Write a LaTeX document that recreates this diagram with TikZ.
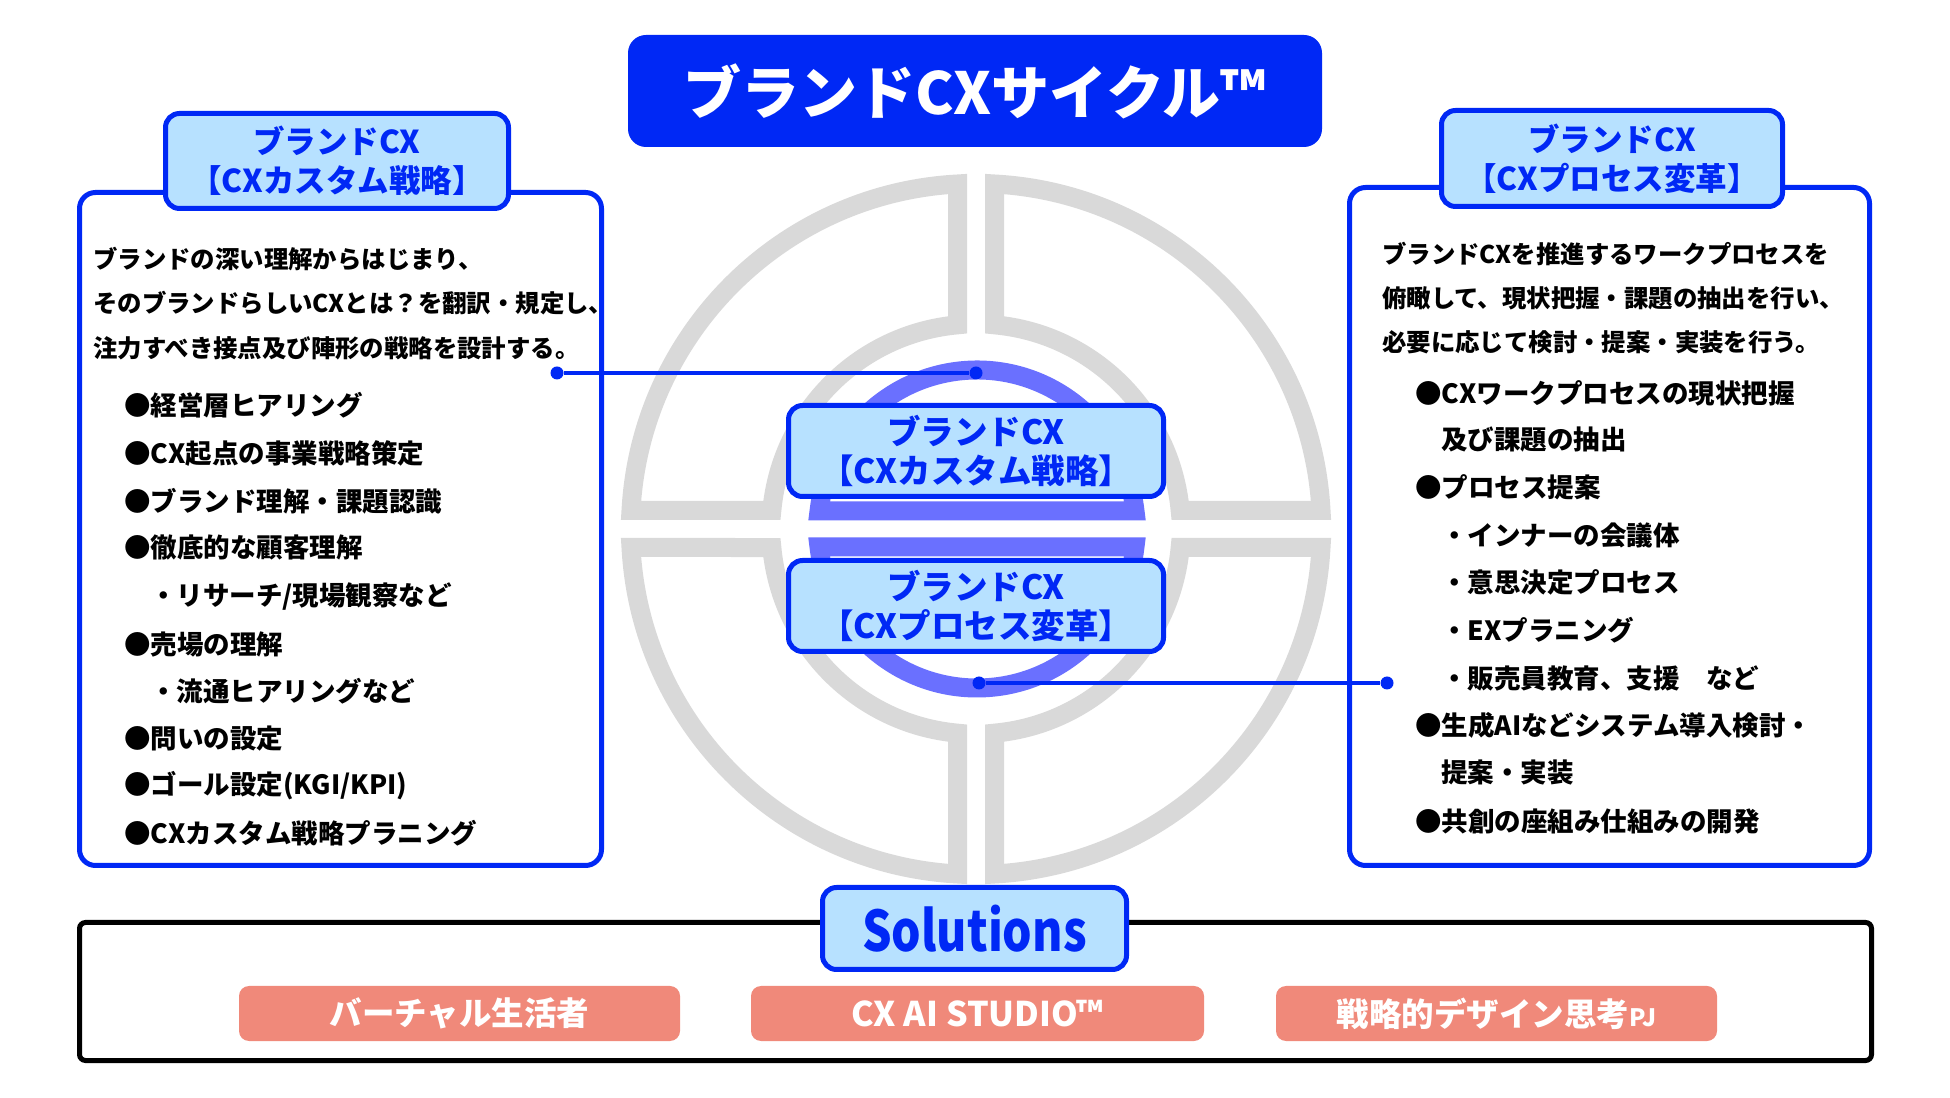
\documentclass[tikz,border=0pt]{standalone}
\usepackage{fontspec}
\setmainfont{Noto Sans CJK JP}
\newfontfamily\condfont{Noto Sans CJK JP}[FakeStretch=0.83]
\newcommand\fsz[2]{\fontsize{#1}{#2}\selectfont}
\definecolor{mblue}{RGB}{0,40,245}
\definecolor{lblue}{RGB}{183,225,255}
\definecolor{rblue}{RGB}{106,112,255}
\definecolor{rgray}{RGB}{217,217,217}
\definecolor{salmon}{RGB}{240,137,122}
\begin{document}
\begin{tikzpicture}[x=1pt,y=1pt,
  hdr/.style={draw=mblue, line width=5pt, fill=lblue, rounded corners=14pt, text=mblue,
    font=\fsz{31.5}{39}\bfseries, align=center, inner sep=0pt},
  panel/.style={draw=mblue, line width=5pt, fill=white, rounded corners=16pt, inner sep=0pt},
  desc/.style={anchor=west, font=\fsz{24.4}{28}\bfseries, inner sep=0pt},
  item/.style={anchor=west, font=\fsz{26.5}{30}\bfseries, inner sep=0pt},
  sol/.style={fill=salmon, rounded corners=10pt, text=white, font=\fsz{32.5}{36}\bfseries,
    minimum width=441pt, minimum height=55pt, inner sep=0pt},
  dot/.style={circle, fill=mblue, inner sep=0pt, minimum size=13pt},
  conn/.style={draw=mblue, line width=3.5pt}
]
\useasboundingbox (0,0) rectangle (1950,1097);
\fill[white] (0,0) rectangle (1950,1097);

% gray quadrants
\begin{scope}[shift={(976,568)}]
\foreach \r in {0,90,180,270}{
  \draw[rgray, line width=19pt, rotate=\r]
    (-18.5,345.0) arc[start angle=93.07, end angle=176.93, radius=345.5]
    -- (-204.16,18.5) arc[start angle=174.82, end angle=95.18, radius=205] -- cycle;
}
\end{scope}
% blue halves
\begin{scope}[shift={(977,568)}]
\foreach \r in {0,180}{
  \draw[rblue, line width=19pt, rotate=\r]
    (157.98,18) arc[start angle=6.50, end angle=173.50, radius=159] -- cycle;
}
\end{scope}

% title
\node[fill=mblue, rounded corners=18pt, minimum width=694pt, minimum height=112pt, inner sep=0pt,
  text=white, font=\fsz{58}{60}\bfseries] (title) at (975,1006) {ブランドCXサイクル™};

% left panel
\node[panel, minimum width=522pt, minimum height=673pt] (lbox) at (340.5,568) {};
\node[hdr, minimum width=343pt, minimum height=95pt] (lhdr) at (337,936) {ブランドCX\\【CXカスタム戦略】};
\node[desc] (ld1) at (93,838) {ブランドの深い理解からはじまり、};
\node[desc] (ld2) at (93,794) {そのブランドらしいCXとは？を翻訳・規定し、};
\node[desc] (ld3) at (93,749) {注力すべき接点及び陣形の戦略を設計する。};
\node[item] (li1) at (124,692) {●経営層ヒアリング};
\node[item] (li2) at (124,643) {●CX起点の事業戦略策定};
\node[item] (li3) at (124,596) {●ブランド理解・課題認識};
\node[item] (li4) at (124,549) {●徹底的な顧客理解};
\node[item] (li5) at (150,500) {・リサーチ/現場観察など};
\node[item] (li6) at (124,453) {●売場の理解};
\node[item] (li7) at (150,406) {・流通ヒアリングなど};
\node[item] (li8) at (124,358) {●問いの設定};
\node[item] (li9) at (124,311) {●ゴール設定(KGI/KPI)};
\node[item] (li10) at (124,264) {●CXカスタム戦略プラニング};

% right panel
\node[panel, minimum width=520pt, minimum height=678pt] (rbox) at (1609.5,570.5) {};
\node[hdr, minimum width=341pt, minimum height=96pt] (rhdr) at (1612,938.5) {ブランドCX\\【CXプロセス変革】};
\node[desc] (rd1) at (1382,843) {ブランドCXを推進するワークプロセスを};
\node[desc] (rd2) at (1382,799) {俯瞰して、現状把握・課題の抽出を行い、};
\node[desc] (rd3) at (1382,755) {必要に応じて検討・提案・実装を行う。};
\node[item] (ri1) at (1415,704) {●CXワークプロセスの現状把握};
\node[item] (ri2) at (1441,657) {及び課題の抽出};
\node[item] (ri3) at (1415,610) {●プロセス提案};
\node[item] (ri4) at (1441,562) {・インナーの会議体};
\node[item] (ri5) at (1441,515) {・意思決定プロセス};
\node[item] (ri6) at (1441,467) {・EXプラニング};
\node[item] (ri7) at (1441,419) {・販売員教育、支援　など};
\node[item] (ri8) at (1415,372) {●生成AIなどシステム導入検討・};
\node[item] (ri9) at (1441,325) {提案・実装};
\node[item] (ri10) at (1415,276) {●共創の座組み仕組みの開発};

% center boxes
\node[hdr, minimum width=375pt, minimum height=91pt, font=\fsz{33.5}{39}\bfseries] (c1) at (976,646) {ブランドCX\\【CXカスタム戦略】};
\node[hdr, minimum width=375pt, minimum height=91pt, font=\fsz{33.5}{39}\bfseries] (c2) at (976,491) {ブランドCX\\【CXプロセス変革】};

% connectors
\node[dot] (dl) at (557,724) {};
\node[dot] (dr) at (976,724) {};
\node[dot] (el) at (979,414) {};
\node[dot] (er) at (1387,414) {};
\draw[conn] (dl) -- (dr);
\draw[conn] (el) -- (er);

% solutions
\node[draw=black, line width=5pt, rounded corners=6pt, minimum width=1792pt, minimum height=138pt, inner sep=0pt] (solbox) at (975.5,105.5) {};
\node[hdr, minimum width=304pt, minimum height=82pt, font=\fsz{56}{58}\condfont\bfseries] (solhdr) at (974.5,168.5) {Solutions};
\node[sol] (s1) at (459.5,83.5) {バーチャル生活者};
\node[sol, minimum width=453pt, font=\fsz{34}{36}\bfseries] (s2) at (977.5,83.5) {CX AI STUDIO™};
\node[sol] (s3) at (1496.5,83.5) {戦略的デザイン思考{\fsz{24}{28}PJ}};
\end{tikzpicture}
\end{document}
